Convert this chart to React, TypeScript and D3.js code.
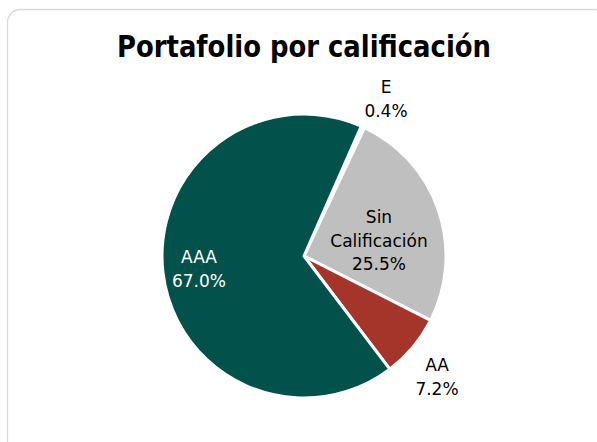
import React from "react";
import * as d3 from "d3";

const categories = ["E", "Sin Calificación", "AA", "AAA"];
const values = [0.4, 25.5, 7.2, 67.0];
const colors = ["#D9D9D9", "#BFBFBF", "#A5352B", "#02524B"];
const title = "Portafolio por calificación";

const W = 597;
const H = 442;
const cx = 304;
const cy = 256;
const R = 142;
const startDeg = 23.8;
const FONT = "'DejaVu Sans Condensed', 'DejaVu Sans', sans-serif";
const LFONT = "'DejaVu Sans', sans-serif";

export default function App() {
  const data = categories.map((c, i) => ({ c, v: values[i], col: colors[i] }));
  const start = (startDeg * Math.PI) / 180;
  const pie = d3
    .pie<any>()
    .sort(null)
    .value((d) => d.v)
    .startAngle(start)
    .endAngle(start + 2 * Math.PI);
  const arcs = pie(data);
  const arc = d3.arc<any>().innerRadius(0).outerRadius(R);

  const fmt = (v: number) => v.toFixed(1) + "%";
  const labels = [
    { x: 386, y: 93, lines: ["E", fmt(values[0])], fill: "#000" },
    { x: 379, y: 223, lines: ["Sin", "Calificación", fmt(values[1])], fill: "#000" },
    { x: 437, y: 371, lines: ["AA", fmt(values[2])], fill: "#000" },
    { x: 199, y: 263, lines: ["AAA", fmt(values[3])], fill: "#fff" },
  ];

  return (
    <svg
      width={W}
      height={H}
      style={{ position: "absolute", left: 0, top: 0, background: "#fff" }}
    >
      <rect x={7.5} y={9.5} width={600} height={450} rx={13} ry={13} fill="#fff" stroke="#D9D9D9" strokeWidth={1.3} />
      <text
        x={cx}
        y={57}
        textAnchor="middle"
        fontFamily={FONT}
        fontWeight="bold"
        fontSize={30}
        textLength={374}
        lengthAdjust="spacingAndGlyphs"
        fill="#000"
      >
        {title}
      </text>
      <g transform={`translate(${cx},${cy})`}>
        {arcs.map((a, i) => (
          <path key={i} d={arc(a) as string} fill={a.data.col} stroke="#fff" strokeWidth={3} strokeLinejoin="round" />
        ))}
      </g>
      {labels.map((l, i) => (
        <text key={i} x={l.x} y={l.y} textAnchor="middle" fontFamily={LFONT} fontSize={17} fill={l.fill}>
          {l.lines.map((t, j) => (
            <tspan key={j} x={l.x} y={l.y + j * 23.7}>
              {t}
            </tspan>
          ))}
        </text>
      ))}
    </svg>
  );
}
